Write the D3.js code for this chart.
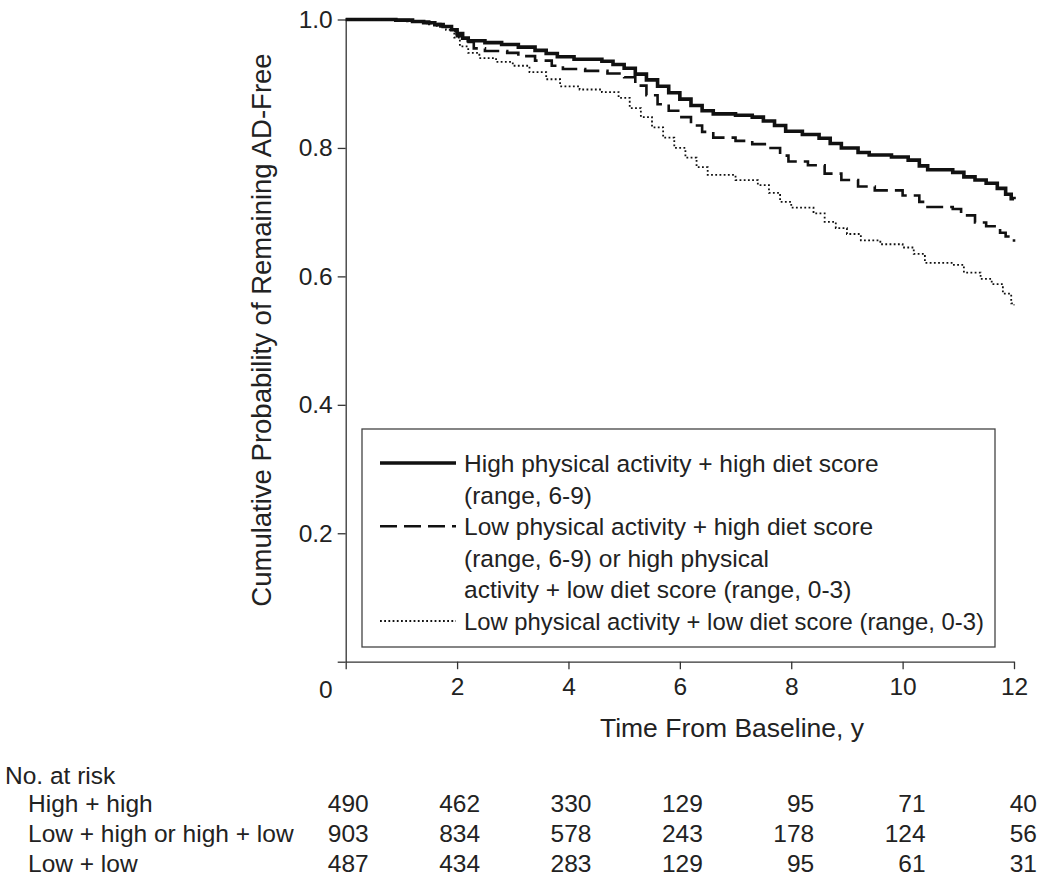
<!DOCTYPE html>
<html>
<head>
<meta charset="utf-8">
<script src="https://cdn.jsdelivr.net/npm/d3@7/dist/d3.min.js"></script>
<style>
  html, body { margin: 0; padding: 0; background: #fff; }
  svg text { font-family: "Liberation Sans", Arial, sans-serif; fill: #222; }
</style>
</head>
<body>
<svg id="chart" width="1050" height="881"></svg>
<script>
// ---- Data ----
const highHigh = [[0,1],[0.9,0.999],[1.2,0.997],[1.4,0.995],[1.6,0.992],[1.75,0.989],[1.9,0.984],[2.0,0.978],[2.1,0.971],[2.2,0.967],[2.5,0.964],[2.8,0.961],[3.1,0.957],[3.4,0.952],[3.6,0.947],[3.8,0.942],[4.1,0.938],[4.6,0.935],[4.8,0.930],[5.0,0.924],[5.2,0.915],[5.4,0.906],[5.6,0.896],[5.8,0.886],[6.0,0.876],[6.2,0.866],[6.4,0.858],[6.6,0.853],[7.0,0.851],[7.3,0.848],[7.5,0.842],[7.7,0.835],[7.9,0.826],[8.2,0.821],[8.5,0.815],[8.7,0.807],[8.9,0.800],[9.2,0.793],[9.4,0.789],[9.8,0.786],[10.1,0.781],[10.3,0.772],[10.45,0.766],[10.9,0.762],[11.1,0.755],[11.3,0.750],[11.5,0.745],[11.7,0.737],[11.85,0.728],[11.95,0.721],[12,0.720]];
const mixed = [[0,1],[0.9,0.999],[1.2,0.997],[1.5,0.993],[1.7,0.989],[1.9,0.982],[2.0,0.974],[2.1,0.965],[2.3,0.955],[2.5,0.951],[2.9,0.948],[3.1,0.943],[3.4,0.936],[3.7,0.928],[3.9,0.923],[4.3,0.920],[4.7,0.916],[5.0,0.910],[5.2,0.897],[5.4,0.882],[5.6,0.868],[5.8,0.858],[6.0,0.848],[6.2,0.835],[6.4,0.825],[6.6,0.816],[7.0,0.811],[7.3,0.806],[7.6,0.800],[7.8,0.788],[7.95,0.779],[8.3,0.773],[8.6,0.760],[8.9,0.750],[9.2,0.740],[9.5,0.734],[10.0,0.726],[10.3,0.716],[10.4,0.708],[10.9,0.705],[11.05,0.695],[11.3,0.684],[11.5,0.678],[11.75,0.668],[11.85,0.662],[12,0.654]];
const lowLow = [[0,1],[0.8,0.999],[1.1,0.997],[1.4,0.994],[1.6,0.990],[1.8,0.984],[1.95,0.972],[2.05,0.958],[2.2,0.948],[2.4,0.940],[2.7,0.934],[3.0,0.928],[3.3,0.918],[3.6,0.907],[3.85,0.896],[4.2,0.891],[4.6,0.887],[4.9,0.878],[5.1,0.862],[5.3,0.848],[5.5,0.832],[5.7,0.816],[5.9,0.800],[6.1,0.785],[6.3,0.770],[6.5,0.758],[7.0,0.750],[7.4,0.742],[7.6,0.730],[7.8,0.716],[8.0,0.707],[8.4,0.698],[8.6,0.685],[8.8,0.675],[9.0,0.666],[9.25,0.656],[9.6,0.650],[10.0,0.645],[10.2,0.635],[10.4,0.621],[10.9,0.618],[11.1,0.606],[11.4,0.596],[11.6,0.588],[11.8,0.573],[11.95,0.558],[12,0.555]];

const xTicks = [0, 2, 4, 6, 8, 10, 12];
const yTicks = [0, 0.2, 0.4, 0.6, 0.8, 1.0];

const legendLabels = [
  ["High physical activity + high diet score", "(range, 6-9)"],
  ["Low physical activity + high diet score", "(range, 6-9) or high physical", "activity + low diet score (range, 0-3)"],
  ["Low physical activity + low diet score (range, 0-3)"]
];

const riskTitle = "No. at risk";
const riskGroups = ["High + high", "Low + high or high + low", "Low + low"];
const riskHighHigh = [490, 462, 330, 129, 95, 71, 40];
const riskMixed = [903, 834, 578, 243, 178, 124, 56];
const riskLowLow = [487, 434, 283, 129, 95, 61, 31];

const xTitle = "Time From Baseline, y";
const yTitle = "Cumulative Probability of Remaining AD-Free";

// ---- Layout ----
const svg = d3.select("#chart");
svg.append("rect").attr("width", 1050).attr("height", 881).attr("fill", "#fff");

const x = d3.scaleLinear().domain([0, 12]).range([345.7, 1014]);
const y = d3.scaleLinear().domain([0, 1]).range([661.7, 19.5]);

const axisColor = "#333";
const fs = 24.5;

// Y axis
const gy = svg.append("g").attr("transform", `translate(${x(0)},0)`)
  .call(d3.axisLeft(y).tickValues(yTicks).tickSize(8).tickSizeOuter(0)
    .tickFormat(d => d === 0 ? "" : d3.format(".1f")(d)));
// X axis
const gx = svg.append("g").attr("transform", `translate(0,${y(0)})`)
  .call(d3.axisBottom(x).tickValues(xTicks).tickSize(7.5).tickSizeOuter(0)
    .tickFormat(d => d === 0 ? "" : d));

[gx, gy].forEach(g => {
  g.select(".domain").attr("stroke", axisColor).attr("stroke-width", 1.3);
  g.selectAll(".tick line").attr("stroke", axisColor).attr("stroke-width", 1.3);
  g.selectAll(".tick text").attr("font-size", fs).attr("fill", "#222")
    .style("font-family", "'Liberation Sans', Arial, sans-serif");
});
gy.selectAll(".tick text").attr("x", -13);
gx.selectAll(".tick text").attr("y", 16);

// shared origin label
svg.append("text").attr("x", x(0) - 20).attr("y", 698).attr("text-anchor", "middle")
  .attr("font-size", fs).text("0");

// Axis titles
svg.append("text").attr("x", 732).attr("y", 737).attr("text-anchor", "middle")
  .attr("font-size", 26.5).text(xTitle);
svg.append("text").attr("transform", "translate(271,330) rotate(-90)")
  .attr("text-anchor", "middle").attr("font-size", 27.5).text(yTitle);

// Curves
const line = d3.line().x(d => x(d[0])).y(d => y(d[1])).curve(d3.curveStepAfter);
const styles = [
  { data: highHigh, width: 3.6, dash: null },
  { data: mixed, width: 2.6, dash: "17,7" },
  { data: lowLow, width: 1.8, dash: "1.8,2.4" }
];
styles.forEach(s => {
  svg.append("path").datum(s.data).attr("d", line)
    .attr("fill", "none").attr("stroke", "#111")
    .attr("stroke-width", s.width)
    .attr("stroke-dasharray", s.dash);
});

// Legend
const lg = svg.append("g");
lg.append("rect").attr("x", 362).attr("y", 429).attr("width", 633).attr("height", 218)
  .attr("fill", "#fff").attr("stroke", "#444").attr("stroke-width", 1.3);
const lineH = 31.6;
let row = 0;
legendLabels.forEach((lines, i) => {
  const cy = 463 + row * lineH;
  lg.append("line").attr("x1", 380).attr("x2", 456).attr("y1", cy).attr("y2", cy)
    .attr("stroke", "#111").attr("stroke-width", styles[i].width)
    .attr("stroke-dasharray", styles[i].dash);
  lines.forEach((t, j) => {
    const tx = lg.append("text").attr("x", 464).attr("y", cy + j * lineH + 9)
      .attr("font-size", fs).text(t);
    if (i === 2) tx.attr("textLength", 520).attr("lengthAdjust", "spacingAndGlyphs");
  });
  row += lines.length;
});

// Risk table
svg.append("text").attr("x", 5).attr("y", 784).attr("font-size", fs).text(riskTitle);
const riskRows = [riskHighHigh, riskMixed, riskLowLow];
riskRows.forEach((vals, i) => {
  const by = 812 + i * 30;
  svg.append("text").attr("x", 28).attr("y", by).attr("font-size", fs).text(riskGroups[i]);
  svg.selectAll(null).data(vals).enter().append("text")
    .attr("x", (d, k) => x(xTicks[k]) + 23).attr("y", by)
    .attr("text-anchor", "end").attr("font-size", fs).text(d => d);
});
</script>
</body>
</html>
